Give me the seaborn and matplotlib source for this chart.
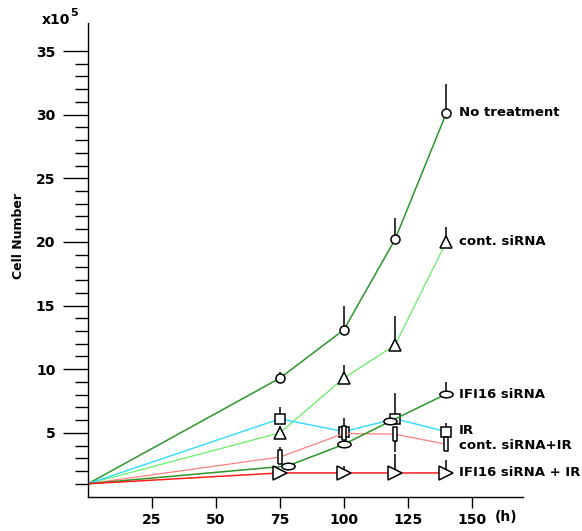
import numpy as np
import pandas as pd
import matplotlib
matplotlib.use("Agg")
import matplotlib.pyplot as plt
from matplotlib.markers import MarkerStyle
from matplotlib.transforms import Affine2D
import seaborn as sns

# ---- data (cell number, x10^5) ----
t_std = [0, 75, 100, 120, 140]
t_ifi = [0, 78, 100, 118, 140]

no_treat = [1.0, 9.3, 13.1, 20.2, 30.1]
no_treat_top = [np.nan, 9.8, 15.0, 21.9, 32.4]

cont_sirna = [1.0, 5.0, 9.3, 11.9, 20.0]
cont_sirna_top = [np.nan, 5.5, 10.3, 14.2, 21.2]

ir = [1.0, 6.1, 5.1, 6.1, 5.1]
ir_top = [np.nan, 7.0, 6.2, 8.1, 5.8]

cont_sirna_ir = [1.0, 3.1, 4.95, 4.9, 4.1]
cont_sirna_ir_top = [np.nan, 3.9, np.nan, 3.5, np.nan]

ifi16_sirna = [1.0, 2.4, 4.1, 5.9, 8.05]
ifi16_sirna_top = [np.nan, np.nan, np.nan, np.nan, 9.0]

ifi16_sirna_ir = [1.0, 1.85, 1.85, 1.85, 1.85]
ifi16_sirna_ir_top = [np.nan, np.nan, 2.4, 3.3, 2.9]

labels = ["No treatment", "cont. siRNA", "IFI16 siRNA", "IR",
          "cont. siRNA+IR", "IFI16 siRNA + IR"]
label_y = [30.2, 20.0, 8.0, 5.2, 4.0, 1.85]

x_ticks = [25, 50, 75, 100, 125, 150]
y_major = [5, 10, 15, 20, 25, 30, 35]
y_minor = list(range(1, 35))

# ---- style ----
sns.set_style("white")
plt.rcParams["font.family"] = ["DejaVu Sans"]
plt.rcParams["font.weight"] = "bold"
plt.rcParams["text.color"] = "black"
plt.rcParams["xtick.color"] = "black"
plt.rcParams["ytick.color"] = "black"

fig = plt.figure(figsize=(5.82, 5.31), dpi=100)
ax = fig.add_axes([88 / 582, (531 - 496.5) / 531, (523 - 88) / 582, (496.5 - 23) / 531])

oval = MarkerStyle("o", transform=Affine2D().scale(1.0, 0.5))
tall = [(-0.35, -1), (0.35, -1), (0.35, 1), (-0.35, 1), (-0.35, -1)]

series = [
    (t_std, no_treat, no_treat_top, "#2b962b", "o", 6.5, 1.1),
    (t_std, cont_sirna, cont_sirna_top, "#66ee66", "^", 8.5, 0.9),
    (t_std, ir, ir_top, "#30dcff", "s", 6.5, 1.0),
    (t_std, cont_sirna_ir, cont_sirna_ir_top, "#ff7f7f", tall, 10, 0.9),
    (t_ifi, ifi16_sirna, ifi16_sirna_top, "#2b962b", oval, 9.5, 1.1),
    (t_std, ifi16_sirna_ir, ifi16_sirna_ir_top, "#ff1e1e", ">", 9.5, 1.1),
]

for tx, vals, tops, col, mk, ms, lw in series:
    df = pd.DataFrame({"t": tx, "v": vals})
    top = np.array(tops, dtype=float)
    v = np.array(vals, dtype=float)
    ok = ~np.isnan(top)
    ax.vlines(np.array(tx)[ok], v[ok], top[ok], color="black", lw=1.1, zorder=1.5)
    sns.lineplot(data=df, x="t", y="v", ax=ax, color=col, lw=lw,
                 marker=mk, markersize=ms, markerfacecolor="white",
                 markeredgecolor="black", markeredgewidth=1.1,
                 markevery=list(range(1, len(vals))),
                 estimator=None, sort=False, legend=False)

for lab, ly in zip(labels, label_y):
    ax.text(144.8, ly, lab, fontsize=9.5, fontweight="bold", va="center",
            ha="left", color="black")

ax.set_xlim(0, 170)
ax.set_ylim(0, 37.2)
ax.set_xticks(x_ticks)
ax.set_xticklabels([str(v) for v in x_ticks])
ax.set_yticks(y_major)
ax.set_yticklabels([str(v) for v in y_major])
ax.set_yticks(y_minor, minor=True)
ax.set_xlabel("")
ax.set_ylabel("")

for s in ["top", "right"]:
    ax.spines[s].set_visible(False)
for s in ["left", "bottom"]:
    ax.spines[s].set_linewidth(1.0)
    ax.spines[s].set_color("black")

ax.tick_params(axis="y", which="major", direction="out", length=18, width=1.0,
               pad=5.5, labelsize=10, colors="black", left=True)
ax.tick_params(axis="y", which="minor", direction="out", length=9.5, width=1.0,
               colors="black", left=True)
ax.tick_params(axis="x", which="major", direction="out", length=8, width=1.0,
               pad=4, labelsize=10, colors="black", bottom=True)
for lbl in ax.get_xticklabels() + ax.get_yticklabels():
    lbl.set_fontweight("bold")
    lbl.set_color("black")

fig.text(495 / 582, 1 - 517 / 531, "(h)", fontsize=10, fontweight="bold",
         ha="left", va="center", color="black")
fig.text(42 / 582, 1 - 20 / 531, "x10", fontsize=10, fontweight="bold",
         ha="left", va="center", color="black")
fig.text(70 / 582, 1 - 13 / 531, "5", fontsize=8, fontweight="bold",
         ha="left", va="center", color="black")
fig.text(19 / 582, 1 - 236 / 531, "Cell Number", fontsize=9, fontweight="bold",
         rotation=90, ha="center", va="center", color="black")

fig.savefig("out.png", dpi=100)
